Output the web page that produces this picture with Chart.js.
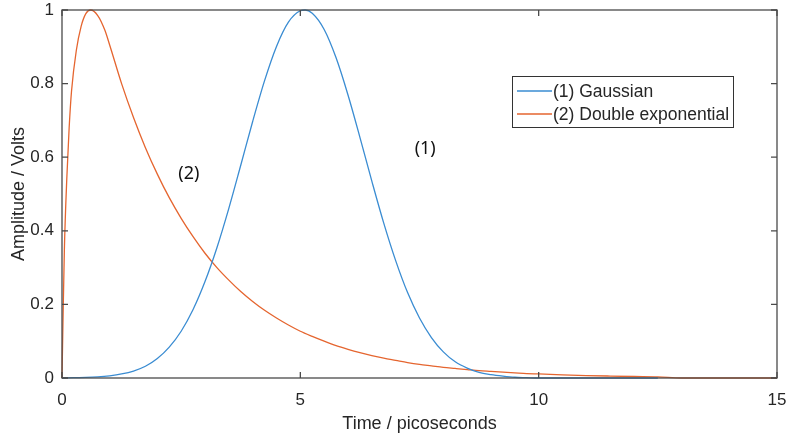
<!DOCTYPE html>
<html>
<head>
<meta charset="utf-8">
<script src="https://cdn.jsdelivr.net/npm/chart.js@4"></script>
<style>
  html, body { margin: 0; padding: 0; background: #fff; }
</style>
</head>
<body>
<canvas id="myChart" width="787" height="438"></canvas>
<script>
// pulse shapes, time in picoseconds, amplitude in volts
var gaussTime = [0, 0.25, 0.5, 0.75, 1, 1.25, 1.5, 1.75, 2, 2.25, 2.5, 2.75, 3, 3.25, 3.5, 3.75,
  4, 4.25, 4.5, 4.75, 5, 5.1, 5.25, 5.5, 5.75, 6, 6.25, 6.5, 6.75, 7, 7.25, 7.5, 7.75,
  8, 8.25, 8.5, 8.75, 9, 9.25, 9.5, 9.75, 10, 12.5];
var gaussian = [0, 0.001, 0.0015, 0.003, 0.006, 0.011, 0.019, 0.032, 0.053, 0.084, 0.127, 0.186, 0.262, 0.354, 0.461, 0.578,
  0.697, 0.808, 0.901, 0.967, 0.998, 1, 0.991, 0.947, 0.870, 0.769, 0.654, 0.535, 0.421, 0.319, 0.232, 0.163, 0.110,
  0.071, 0.044, 0.027, 0.015, 0.009, 0.005, 0.002, 0.001, 0, 0];

var dexpTime = [0, 0.02, 0.05, 0.1, 0.15, 0.2, 0.3, 0.4, 0.5, 0.6, 0.75, 0.9,
  1, 1.25, 1.5, 1.75, 2, 2.25, 2.5, 2.75, 3, 3.25, 3.5, 3.75, 4, 4.25, 4.5, 4.75,
  5, 5.25, 5.5, 5.75, 6, 6.25, 6.5, 6.75, 7, 7.25, 7.5, 7.75, 8, 8.25, 8.5, 8.75,
  9, 9.25, 9.5, 9.75, 10, 10.5, 11, 11.5, 12, 12.5, 13, 15];
var doubleExp = [0, 0.15, 0.35, 0.54, 0.68, 0.78, 0.89, 0.955, 0.99, 1, 0.985, 0.945,
  0.905, 0.800, 0.708, 0.626, 0.554, 0.490, 0.434, 0.384, 0.339, 0.300, 0.266, 0.235, 0.208, 0.184, 0.163, 0.144,
  0.127, 0.113, 0.100, 0.088, 0.078, 0.069, 0.061, 0.054, 0.048, 0.042, 0.037, 0.033, 0.029, 0.026, 0.023, 0.020,
  0.018, 0.016, 0.014, 0.012, 0.011, 0.0086, 0.0067, 0.0053, 0.0041, 0.0032, 0, 0];

var seriesNames = ["(1) Gaussian", "(2) Double exponential"];
var seriesColors = ["#3a8cd2", "#e5652f"];

// curve labels placed on the plot (data coords)
var annoText = ["(1)", "(2)"];
var annoX = [7.62, 2.66];
var annoY = [0.622, 0.554];

var axisColor = "#4a4a4a";
var textColor = "#262626";
var fontName = "'Liberation Sans', Arial, sans-serif";

function toPoints(xs, ys) {
  return xs.map(function (x, i) { return { x: x, y: ys[i] }; });
}

// box round the axes with inward tick marks on all four sides
var framePlugin = {
  id: "frame",
  afterDatasetsDraw: function (chart) {
    var ctx = chart.ctx;
    var a = chart.chartArea;
    var xs = chart.scales.x, ys = chart.scales.y;
    var tl = 6;
    ctx.save();
    ctx.strokeStyle = axisColor;
    ctx.lineWidth = 1.3;
    ctx.strokeRect(a.left, a.top, a.right - a.left, a.bottom - a.top);
    ctx.beginPath();
    xs.ticks.forEach(function (t) {
      var px = xs.getPixelForValue(t.value);
      ctx.moveTo(px, a.bottom); ctx.lineTo(px, a.bottom - tl);
      ctx.moveTo(px, a.top); ctx.lineTo(px, a.top + tl);
    });
    ys.ticks.forEach(function (t) {
      var py = ys.getPixelForValue(t.value);
      ctx.moveTo(a.left, py); ctx.lineTo(a.left + tl, py);
      ctx.moveTo(a.right, py); ctx.lineTo(a.right - tl, py);
    });
    ctx.stroke();

    // curve labels
    ctx.fillStyle = "#111";
    ctx.font = "18px 'Noto Sans'";
    ctx.textAlign = "center";
    ctx.textBaseline = "middle";
    for (var i = 0; i < annoText.length; i++) {
      ctx.fillText(annoText[i], xs.getPixelForValue(annoX[i]), ys.getPixelForValue(annoY[i]));
    }
    ctx.restore();
  },
  afterDraw: function (chart) {
    // legend box inside the plot, upper right
    var ctx = chart.ctx;
    var bx = 512, by = 76, bw = 221, bh = 51;
    ctx.save();
    ctx.fillStyle = "#fff";
    ctx.fillRect(bx, by, bw, bh);
    ctx.strokeStyle = "#333";
    ctx.lineWidth = 1;
    ctx.strokeRect(bx + 0.5, by + 0.5, bw, bh);
    ctx.font = "17.5px " + fontName;
    ctx.textBaseline = "middle";
    ctx.textAlign = "left";
    for (var i = 0; i < seriesNames.length; i++) {
      var ry = by + 15 + i * 23;
      ctx.strokeStyle = seriesColors[i];
      ctx.lineWidth = 1.3;
      ctx.beginPath();
      ctx.moveTo(bx + 5, ry);
      ctx.lineTo(bx + 40, ry);
      ctx.stroke();
      ctx.fillStyle = textColor;
      ctx.fillText(seriesNames[i], bx + 41, ry + 1);
    }
    ctx.restore();
  }
};

var ctx = document.getElementById("myChart");
var myChart = new Chart(ctx, {
  type: "line",
  data: {
    datasets: [
      {
        label: seriesNames[0],
        data: toPoints(gaussTime, gaussian),
        borderColor: seriesColors[0],
        borderWidth: 1.3,
        pointRadius: 0,
        cubicInterpolationMode: "monotone",
        clip: false,
      },
      {
        label: seriesNames[1],
        data: toPoints(dexpTime, doubleExp),
        borderColor: seriesColors[1],
        borderWidth: 1.3,
        pointRadius: 0,
        cubicInterpolationMode: "monotone",
        clip: false,
      },
    ],
  },
  options: {
    responsive: false,
    animation: false,
    layout: { padding: { left: 0, right: 10, top: 10, bottom: 0 } },
    plugins: {
      legend: { display: false },
      tooltip: { enabled: false },
    },
    scales: {
      x: {
        type: "linear",
        min: 0,
        max: 15,
        grid: { display: false, drawTicks: false },
        border: { display: false },
        ticks: {
          stepSize: 5,
          padding: 12,
          color: textColor,
          font: { family: fontName, size: 17 },
          maxRotation: 0,
        },
        title: {
          display: true,
          text: "Time / picoseconds",
          color: textColor,
          font: { family: fontName, size: 18 },
          padding: { top: 0, bottom: 3 },
        },
        afterFit: function (scale) {
          scale.height = 60;
          scale.paddingLeft = 0;
          scale.paddingRight = 0;
        },
      },
      y: {
        min: 0,
        max: 1,
        grid: { display: false, drawTicks: false },
        border: { display: false },
        ticks: {
          stepSize: 0.2,
          padding: 8,
          color: textColor,
          font: { family: fontName, size: 17 },
          callback: function (v) { return String(Math.round(v * 10) / 10); },
        },
        title: {
          display: true,
          text: "Amplitude / Volts",
          color: textColor,
          font: { family: fontName, size: 18 },
          padding: { top: 8, bottom: 0 },
        },
        afterFit: function (scale) {
          scale.width = 62;
          scale.paddingTop = 0;
          scale.paddingBottom = 0;
        },
      },
    },
  },
  plugins: [framePlugin],
});
</script>
</body>
</html>
